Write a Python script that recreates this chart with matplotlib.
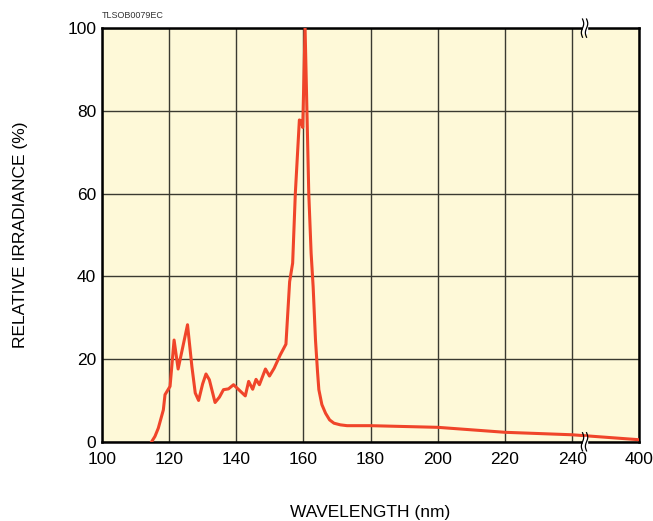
import numpy as np
import matplotlib.pyplot as plt

# wavelength (nm) and relative irradiance (%)
wavelength = [114.8, 115.8, 116.8, 118.3, 118.8, 120.3, 121.5, 122.7, 125.5, 126.8,
              127.8, 128.8, 130.0, 131.0, 132.0, 133.7, 135.0, 136.2, 137.7, 139.2,
              142.7, 143.7, 144.9, 145.9, 146.9, 148.7, 149.9, 151.3, 153.1, 154.8,
              155.9, 156.8, 157.6, 158.8, 159.3, 159.8, 160.5, 161.6, 162.3, 162.9,
              163.6, 164.2, 164.6, 165.5, 166.6, 167.8, 169.1, 171.0, 173.0, 180.0,
              200.0, 220.0, 240.0, 400.0]
irradiance = [0.0, 1.3, 3.3, 7.7, 11.4, 13.4, 24.6, 17.6, 28.3, 18.2,
              11.8, 10.0, 14.0, 16.4, 15.0, 9.5, 10.8, 12.6, 12.8, 13.8,
              11.1, 14.6, 12.7, 15.1, 13.8, 17.6, 15.9, 17.8, 21.0, 23.6,
              38.7, 43.2, 60.1, 77.8, 77.6, 76.0, 100.0, 60.0, 45.6, 37.5,
              24.6, 17.0, 12.6, 9.0, 6.9, 5.3, 4.5, 4.1, 3.9, 3.9,
              3.5, 2.3, 1.7, 0.5]

xticks = [100, 120, 140, 160, 180, 200, 220, 240, 400]
yticks = [0, 20, 40, 60, 80, 100]


def squash(x):
    # the last grid step on the chart covers 240..400 nm
    x = np.asarray(x, dtype=float)
    return np.where(x > 240, 240 + (x - 240) * 20 / 160, x)


plt.rcParams['font.family'] = ['Liberation Sans', 'DejaVu Sans']

fig = plt.figure(figsize=(6.53, 5.21), dpi=100)
ax = fig.add_axes([0.156, 0.152, 0.823, 0.794])
ax.set_facecolor('#fef9d8')

ax.plot(squash(wavelength), irradiance, color='#f0452a', lw=2.2,
        solid_joinstyle='round', zorder=3, clip_on=True)

ax.set_xlim(100, 260)
ax.set_ylim(0, 100)
ax.set_xticks(squash(xticks))
ax.set_xticklabels([str(t) for t in xticks])
ax.set_yticks(yticks)
ax.tick_params(length=0, labelsize=12.5)
ax.tick_params(axis='x', pad=7)
ax.tick_params(axis='y', pad=4)
ax.grid(True, color='#3a3a30', lw=1.0, zorder=1)
for s in ax.spines.values():
    s.set_linewidth(1.8)
    s.set_color('black')

# axis break marks at the 240 -> 400 jump
bx = 243.7
for yb in (0, 100):
    ax.fill_between([bx - 0.6, bx + 0.6], yb - 1.2, yb + 1.2, color='white',
                    zorder=4, clip_on=False, transform=ax.transData)
    t = np.linspace(-1, 1, 30)
    for dx in (-0.6, 0.6):
        ax.plot(bx + dx + 0.35 * np.sin(t * np.pi), yb + 2.2 * t, color='black',
                lw=0.9, zorder=5, clip_on=False)

ax.set_xlabel('WAVELENGTH (nm)', fontsize=12.5, labelpad=28)
ax.set_ylabel('RELATIVE IRRADIANCE (%)', fontsize=12.5, labelpad=28)
fig.text(0.156, 0.965, 'TLSOB0079EC', fontsize=6.5, color='#333333')

fig.savefig('out.png', dpi=100)
